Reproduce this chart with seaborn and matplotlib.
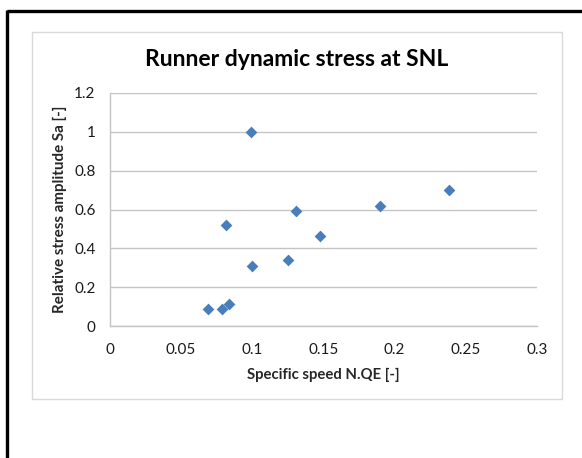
import matplotlib
matplotlib.use("Agg")
import matplotlib.pyplot as plt
from matplotlib.lines import Line2D
from matplotlib.patches import Rectangle
import seaborn as sns
import pandas as pd

# Runner measurements: specific speed vs relative stress amplitude
specific_speed = [0.099, 0.238, 0.190, 0.131, 0.082, 0.148, 0.125, 0.100, 0.069, 0.079, 0.084]
stress_amplitude = [1.00, 0.70, 0.62, 0.59, 0.52, 0.465, 0.34, 0.31, 0.085, 0.085, 0.115]
x_ticks = [0, 0.05, 0.1, 0.15, 0.2, 0.25, 0.3]
x_tick_labels = ["0", "0.05", "0.1", "0.15", "0.2", "0.25", "0.3"]
y_ticks = [0, 0.2, 0.4, 0.6, 0.8, 1.0, 1.2]
y_tick_labels = ["0", "0.2", "0.4", "0.6", "0.8", "1", "1.2"]

df = pd.DataFrame({"nqe": specific_speed, "sa": stress_amplitude})

sns.set_style("white")
plt.rcParams["font.family"] = ["Lato", "DejaVu Sans"]

W, H = 582, 458
fig = plt.figure(figsize=(W / 100, H / 100), dpi=100)

def px(x0, y0, x1, y1):
    return [x0 / W, 1 - y1 / H, (x1 - x0) / W, (y1 - y0) / H]

ax = fig.add_axes(px(109.5, 93, 537, 326))

sns.scatterplot(data=df, x="nqe", y="sa", marker="D", s=36, color="#4a7ebb",
                linewidth=0, ax=ax, zorder=3)

ax.set_xlim(0, 0.3)
ax.set_ylim(0, 1.2)
ax.set_xticks(x_ticks)
ax.set_xticklabels(x_tick_labels)
ax.set_yticks(y_ticks)
ax.set_yticklabels(y_tick_labels)

grid_col = "#c4c4c4"
ax.yaxis.grid(True, color=grid_col, linewidth=1.0)
ax.xaxis.grid(False)
for side in ("top", "right"):
    ax.spines[side].set_visible(False)
for side in ("left", "bottom"):
    ax.spines[side].set_color(grid_col)
    ax.spines[side].set_linewidth(1.0)

ax.tick_params(axis="both", direction="out", length=4, width=1.0, color=grid_col,
               labelsize=11, labelcolor="#1a1a1a")
ax.tick_params(axis="x", pad=8)
ax.tick_params(axis="y", pad=6)

ax.set_xlabel("Specific speed N.QE [-]", fontsize=10.7, fontweight="bold", labelpad=8)
ax.set_ylabel("Relative stress amplitude Sa [-]", fontsize=10.9, fontweight="bold", labelpad=5)

fig.text(297 / W, 1 - 60 / H, "Runner dynamic stress at SNL", ha="center", va="center",
         fontsize=16.5, fontweight="bold", color="#000000")

# chart area frame
fig.add_artist(Rectangle((32 / W, 1 - 399 / H), (562 - 32) / W, (399 - 32) / H,
                         transform=fig.transFigure, fill=False,
                         edgecolor="#d9d9d9", linewidth=1.0))

# outer black border (top and left)
fig.add_artist(Line2D([7 / W, 1.0], [1 - 11 / H, 1 - 11 / H], transform=fig.transFigure,
                      color="black", linewidth=2.4, solid_capstyle="butt"))
fig.add_artist(Line2D([7 / W, 7 / W], [1 - 10 / H, 0.0], transform=fig.transFigure,
                      color="black", linewidth=2.4, solid_capstyle="butt"))

fig.savefig("out.png", dpi=100, facecolor="white")
